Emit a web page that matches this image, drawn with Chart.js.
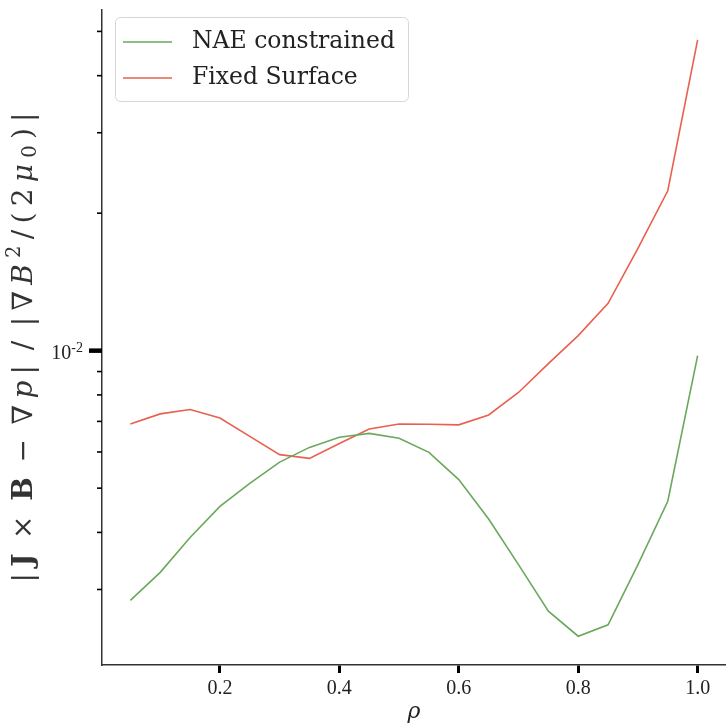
<!DOCTYPE html>
<html>
<head>
<meta charset="utf-8">
<title>Force balance error</title>
<script src="https://cdn.jsdelivr.net/npm/chart.js@4.4.1/dist/chart.umd.min.js"></script>
<style>
	html, body { margin: 0; padding: 0; background: #fff; }
	#wrap { width: 726px; height: 725px; }
</style>
</head>
<body>
<div id="wrap"><canvas id="myChart" width="726" height="725"></canvas></div>
<script>
// radial coordinate
var rho = [0.05, 0.10, 0.15, 0.20, 0.25, 0.30, 0.35, 0.40, 0.45, 0.50,
	0.55, 0.60, 0.65, 0.70, 0.75, 0.80, 0.85, 0.90, 0.95, 1.00];

// normalised force error per surface
var naeConstrained = [2.84e-3, 3.27e-3, 3.90e-3, 4.56e-3, 5.12e-3, 5.70e-3, 6.14e-3, 6.46e-3, 6.59e-3, 6.43e-3,
	5.99e-3, 5.22e-3, 4.28e-3, 3.40e-3, 2.69e-3, 2.37e-3, 2.51e-3, 3.40e-3, 4.68e-3, 9.75e-3];
var fixedSurface = [6.91e-3, 7.27e-3, 7.43e-3, 7.12e-3, 6.49e-3, 5.92e-3, 5.81e-3, 6.26e-3, 6.74e-3, 6.91e-3,
	6.90e-3, 6.88e-3, 7.23e-3, 8.10e-3, 9.37e-3, 1.079e-2, 1.269e-2, 1.674e-2, 2.239e-2, 4.79e-2];

var seriesLabels = ['NAE constrained', 'Fixed Surface'];
var seriesColors = ['#6aa85c', '#e8604f'];

// tick labels
var xTicks = [0.2, 0.4, 0.6, 0.8, 1.0];
var yMajorTicks = [1e-2];
var yMinorTicks = [3e-3, 4e-3, 5e-3, 6e-3, 7e-3, 8e-3, 9e-3, 2e-2, 3e-2, 4e-2, 5e-2];

var SERIF = '"DejaVu Serif", serif';
var TICK_FONT = '"Liberation Serif", serif';

function toPoints(xs, ys) {
	var pts = [];
	for (var i = 0; i < xs.length; i++) {
		pts.push({ x: xs[i], y: ys[i] });
	}
	return pts;
}

// y ticks: short minor marks, thick major mark with a 10^n label
var yTickPlugin = {
	id: 'yTicks',
	afterDraw: function(chart) {
		var ctx = chart.ctx;
		var y = chart.scales.y;
		var left = chart.chartArea.left;
		ctx.save();
		ctx.strokeStyle = '#000';
		ctx.lineWidth = 1.6;
		yMinorTicks.forEach(function(v) {
			var py = y.getPixelForValue(v);
			ctx.beginPath();
			ctx.moveTo(left - 5, py);
			ctx.lineTo(left, py);
			ctx.stroke();
		});
		ctx.lineWidth = 4.5;
		ctx.fillStyle = '#222';
		yMajorTicks.forEach(function(v) {
			var py = y.getPixelForValue(v);
			ctx.beginPath();
			ctx.moveTo(left - 13, py);
			ctx.lineTo(left, py);
			ctx.stroke();

			var exp = String(Math.round(Math.log10(v)));
			ctx.font = '14px ' + TICK_FONT;
			var ew = ctx.measureText(exp).width;
			ctx.font = '20px ' + TICK_FONT;
			var bw = ctx.measureText('10').width;
			var right = left - 19;
			ctx.textBaseline = 'alphabetic';
			ctx.textAlign = 'left';
			ctx.fillText('10', right - ew - bw, py + 8);
			ctx.font = '14px ' + TICK_FONT;
			ctx.fillText(exp, right - ew, py + 1);
		});
		ctx.restore();
	}
};

// rotated y title, laid out glyph by glyph over a fixed length
var yTitlePlugin = {
	id: 'yTitle',
	afterDraw: function(chart) {
		var ctx = chart.ctx;
		var size = 28;
		var span = 470;
		var gap = size * 0.3;   // extra room around binary operators
		var parts = [
			{ t: '|', f: '' },
			{ t: 'J', f: 'bold ' },
			{ t: '\u00d7', f: '', pad: true },
			{ t: 'B', f: 'bold ' },
			{ t: '\u2212', f: '', pad: true },
			{ t: '\u2207', f: '' },
			{ t: 'p', f: 'italic ' },
			{ t: '|', f: '' },
			{ t: '/', f: '', pad: true },
			{ t: '|\u2207', f: '' },
			{ t: 'B', f: 'italic ' },
			{ t: '2', f: '', sup: true },
			{ t: '/(2', f: '' },
			{ t: '\u03bc', f: 'italic ' },
			{ t: '0', f: '', sub: true },
			{ t: ')|', f: '' }
		];
		var glyphs = [];
		parts.forEach(function(p) {
			var s = (p.sup || p.sub) ? size * 0.7 : size;
			p.t.split('').forEach(function(c) {
				glyphs.push({ c: c, font: p.f + s + 'px ' + SERIF, pad: p.pad, dy: p.sup ? -10 : (p.sub ? 6 : 0) });
			});
		});
		ctx.save();
		var total = 0;
		glyphs.forEach(function(g) {
			ctx.font = g.font;
			g.w = ctx.measureText(g.c).width + (g.pad ? gap * 2 : 0);
			total += g.w;
		});
		var extra = Math.max(0, (span - total) / (glyphs.length - 1));
		var area = chart.chartArea;
		ctx.translate(25, (area.top + area.bottom) / 2 + 10);
		ctx.rotate(-Math.PI / 2);
		ctx.fillStyle = '#333';
		ctx.textBaseline = 'middle';
		var x = -(total + extra * (glyphs.length - 1)) / 2;
		glyphs.forEach(function(g) {
			ctx.font = g.font;
			ctx.fillText(g.c, x + (g.pad ? gap : 0), g.dy);
			x += g.w + extra;
		});
		ctx.restore();
	}
};

// legend box in the upper left of the plot
var legendPlugin = {
	id: 'boxLegend',
	afterDraw: function(chart) {
		var ctx = chart.ctx;
		var bx = 115, by = 17, bw = 293, bh = 84;
		ctx.save();
		ctx.fillStyle = 'rgba(255,255,255,0.85)';
		ctx.strokeStyle = '#d6d6d6';
		ctx.lineWidth = 1;
		ctx.beginPath();
		ctx.roundRect(bx + 0.5, by + 0.5, bw, bh, 5);
		ctx.fill();
		ctx.stroke();
		ctx.font = '23.5px ' + SERIF;
		ctx.textBaseline = 'middle';
		chart.data.datasets.forEach(function(ds, i) {
			var ly = by + 25 + i * 36;
			ctx.strokeStyle = ds.borderColor;
			ctx.lineWidth = 1.5;
			ctx.beginPath();
			ctx.moveTo(bx + 8, ly);
			ctx.lineTo(bx + 57, ly);
			ctx.stroke();
			ctx.fillStyle = '#222';
			ctx.fillText(ds.label, bx + 77, ly);
		});
		ctx.restore();
	}
};

var _datasets = [
	{
		label: seriesLabels[0],
		data: toPoints(rho, naeConstrained),
		borderColor: seriesColors[0],
		borderWidth: 1.6,
		pointRadius: 0,
		fill: false,
		tension: 0
	},
	{
		label: seriesLabels[1],
		data: toPoints(rho, fixedSurface),
		borderColor: seriesColors[1],
		borderWidth: 1.6,
		pointRadius: 0,
		fill: false,
		tension: 0
	}
];

var _config = {
	type: 'line',
	data: { datasets: _datasets },
	options: {
		responsive: false,
		animation: false,
		layout: { padding: { top: 10, left: 0, right: 0, bottom: 0 } },
		plugins: {
			legend: { display: false },
			tooltip: { enabled: false }
		},
		scales: {
			x: {
				type: 'linear',
				min: 0.0025,
				max: 1.0475,
				afterBuildTicks: function(scale) {
					scale.ticks = xTicks.map(function(v) { return { value: v }; });
				},
				afterFit: function(scale) {
					scale.height = 60;
				},
				grid: {
					drawOnChartArea: false,
					drawTicks: true,
					tickLength: 8,
					tickWidth: 3,
					tickColor: '#000'
				},
				border: { display: true, color: '#333', width: 1.5 },
				ticks: {
					padding: 4,
					maxRotation: 0,
					color: '#222',
					font: { family: TICK_FONT, size: 20 },
					callback: function(v) { return v.toFixed(1); }
				},
				title: {
					display: true,
					text: '\u03c1',
					color: '#222',
					padding: { top: 0, bottom: 0 },
					font: { family: SERIF, size: 22, style: 'italic' }
				}
			},
			y: {
				type: 'logarithmic',
				min: 2.05e-3,
				max: 5.57e-2,
				afterFit: function(scale) {
					scale.width = 102;
				},
				grid: {
					drawOnChartArea: false,
					drawTicks: false
				},
				border: { display: true, color: '#333', width: 1.5 },
				ticks: { display: false }
			}
		}
	},
	plugins: [yTickPlugin, yTitlePlugin, legendPlugin]
};

var myChart = new Chart(document.getElementById('myChart'), _config);
</script>
</body>
</html>
